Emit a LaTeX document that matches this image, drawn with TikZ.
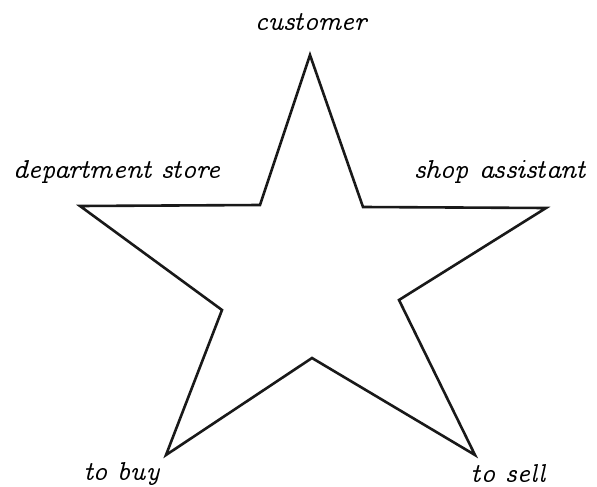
\documentclass[tikz,border=0pt]{standalone}
\usepackage{tikz}
\newcommand{\ccword}[1]{\scalebox{1.52}{\fontencoding{OT1}\fontfamily{ccr}\fontsize{17}{20}\selectfont\itshape #1}}
\tikzset{
  starline/.style={draw=black!90,line width=2.6pt,line join=miter},
  word/.style={inner sep=0pt}
}
\begin{document}
\begin{tikzpicture}[x=1pt,y=-1pt]
  \useasboundingbox (0,0) rectangle (597,487);
  % outer points
  \coordinate (top) at (310,55);
  \coordinate (right) at (546,208);
  \coordinate (lowright) at (475,455);
  \coordinate (lowleft) at (166,455);
  \coordinate (left) at (80,206);
  % inner corners
  \coordinate (in1) at (363,207);
  \coordinate (in2) at (399,300);
  \coordinate (in3) at (312,358);
  \coordinate (in4) at (222,310);
  \coordinate (in5) at (260,205);
  \draw[starline] (top) -- (in1) -- (right) -- (in2) -- (lowright) -- (in3)
    -- (lowleft) -- (in4) -- (left) -- (in5) -- cycle;
  % labels
  \node[word] (customer) at (311,22) {\ccword{customer}};
  \node[word] (store) at (117,172) {\ccword{department store}};
  \node[word] (assistant) at (500,172) {\ccword{shop assistant}};
  \node[word] (buy) at (122,474) {\ccword{to buy}};
  \node[word] (sell) at (509,473) {\ccword{to sell}};
\end{tikzpicture}
\end{document}
